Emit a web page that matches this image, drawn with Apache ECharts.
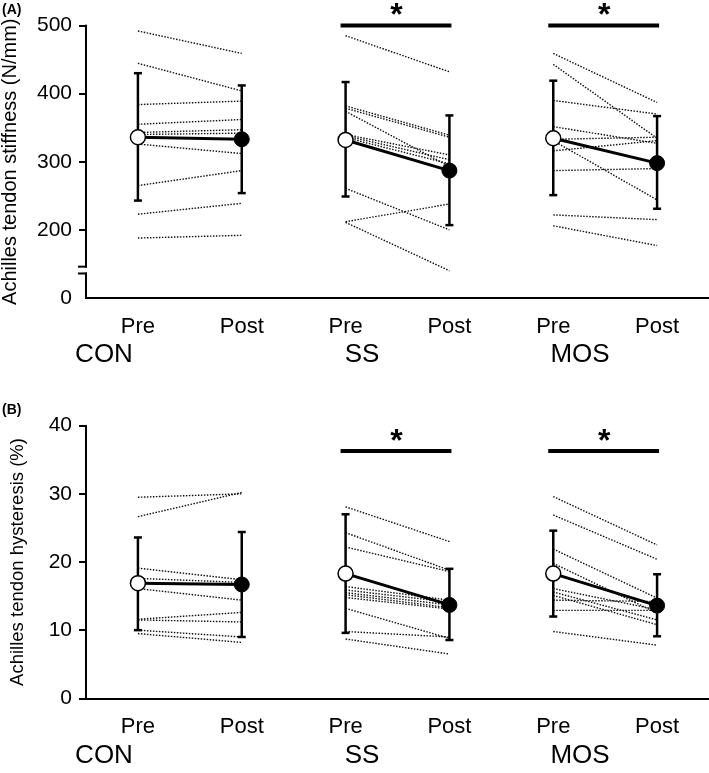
<!DOCTYPE html>
<html><head><meta charset="utf-8">
<script src="https://cdn.jsdelivr.net/npm/echarts@6/dist/echarts.min.js"></script>
<style>html,body{margin:0;padding:0;background:#fff}#c{width:709px;height:773px}</style>
</head><body><div id="c"></div>
<script>
// ---------- data ----------
const xLabels = ['Pre','Post','Pre','Post','Pre','Post'];
const groups = ['CON','SS','MOS'];
const yTicksA = [100,200,300,400,500]; // 100 is shown as "0" (broken axis)
// Panel A: stiffness (N/mm)
const conPreA  = [492, 444.5, 384, 355, 343, 340, 326, 265, 223, 188];
const conPostA = [459, 404, 389, 362, 347, 342, 312, 287, 239, 192];
const ssPreA   = [485, 382, 378.5, 374, 340, 338, 335.5, 261, 212, 211];
const ssPostA  = [432, 339, 336, 293, 310, 303, 297, 200, 238, 140];
const mosPreA  = [459, 443, 390, 351.5, 333, 331, 316, 287, 222, 206];
const mosPostA = [387, 334.5, 370, 327, 336, 244, 331, 290, 215, 177];
const meanPreA  = [336, 332, 334.5];
const meanPostA = [333, 287, 298];
const errPreA  = [[243, 430],[249, 417],[251, 419]];
const errPostA = [[254, 412],[207, 368],[231, 367]];
const sigA = 500;
// Panel B: hysteresis (%)
const conPreB  = [29.5, 26.65, 19.1, 17.6, 16.1, 11.6, 11.5, 10.0, 9.5];
const conPostB = [30.0, 30.2, 17.4, 17.0, 14.4, 12.6, 11.2, 9.0, 8.2];
const ssPreB   = [28.1, 24.3, 22.2, 16.4, 15.9, 15.5, 15.2, 14.8, 13.2, 9.8, 8.7];
const ssPostB  = [23.0, 18.8, 18.6, 14.4, 14.1, 13.7, 13.3, 13.1, 8.8, 9.0, 6.5];
const mosPreB  = [29.6, 26.9, 21.9, 19.8, 16.1, 15.6, 15.1, 14.4, 12.9, 9.8];
const mosPostB = [22.5, 20.4, 14.7, 12.5, 13.0, 11.5, 10.8, 14.2, 12.9, 7.8];
const meanPreB  = [16.9, 18.3, 18.3];
const meanPostB = [16.7, 13.7, 13.6];
const errPreB  = [[10.0, 23.6],[9.6, 27.0],[12.0, 24.6]];
const errPostB = [[9.0, 24.4],[8.55, 19.0],[9.1, 18.2]];
const sigB = 36.3;
const sigGroups = [1, 2]; // SS, MOS

// ---------- build ----------
const FONT = '"Liberation Sans", Arial, sans-serif';
function panel(gi, subj, meanPre, meanPost, errPre, errPost, sigY) {
  const s = [];
  subj.forEach((pair, g) => {
    pair[0].forEach((v, i) => {
      s.push({type:'line', xAxisIndex:gi, yAxisIndex:gi, silent:true, symbol:'none', z:1,
        data:[[2*g, v],[2*g+1, pair[1][i]]],
        lineStyle:{color:'#111', width:1.4, type:[1.5,1.5]}});
    });
    s.push({type:'line', xAxisIndex:gi, yAxisIndex:gi, silent:true, symbol:'none', z:3,
      data:[[2*g, meanPre[g]],[2*g+1, meanPost[g]]],
      lineStyle:{color:'#000', width:3}});
  });
  const errData = [];
  for (let g=0; g<3; g++) {
    errData.push([2*g, errPre[g][0], errPre[g][1]]);
    errData.push([2*g+1, errPost[g][0], errPost[g][1]]);
  }
  s.push({type:'custom', xAxisIndex:gi, yAxisIndex:gi, silent:true, z:4, data:errData,
    renderItem:(p, api) => {
      const x = api.value(0);
      const lo = api.coord([x, api.value(1)]), hi = api.coord([x, api.value(2)]);
      const st = {stroke:'#000', lineWidth:2.5};
      return {type:'group', children:[
        {type:'line', shape:{x1:lo[0],y1:lo[1],x2:hi[0],y2:hi[1]}, style:st},
        {type:'line', shape:{x1:lo[0]-4,y1:lo[1],x2:lo[0]+4,y2:lo[1]}, style:st},
        {type:'line', shape:{x1:hi[0]-4,y1:hi[1],x2:hi[0]+4,y2:hi[1]}, style:st}
      ]};
    }});
  s.push({type:'scatter', xAxisIndex:gi, yAxisIndex:gi, silent:true, z:6, symbolSize:15,
    data: meanPre.map((v,g)=>[2*g, v]),
    itemStyle:{color:'#fff', borderColor:'#000', borderWidth:1.5, opacity:1}});
  s.push({type:'scatter', xAxisIndex:gi, yAxisIndex:gi, silent:true, z:6, symbolSize:15,
    data: meanPost.map((v,g)=>[2*g+1, v]),
    itemStyle:{color:'#000', borderColor:'#000', borderWidth:1, opacity:1}});
  s.push({type:'custom', xAxisIndex:gi, yAxisIndex:gi, silent:true, z:6, clip:false,
    data: sigGroups.map(g => [2*g, 2*g+1, sigY]),
    renderItem:(p, api) => {
      const a = api.coord([api.value(0), api.value(2)]);
      const b = api.coord([api.value(1), api.value(2)]);
      return {type:'group', children:[
        {type:'line', shape:{x1:a[0]-5,y1:a[1],x2:b[0]+2,y2:b[1]}, style:{stroke:'#000', lineWidth:4}},
        {type:'text', x:(a[0]+b[0])/2 - 1, y:a[1]+7,
          style:{text:'*', fill:'#000', font:'bold 32px '+FONT, align:'center', verticalAlign:'bottom'}}
      ]};
    }});
  return s;
}

const series = [].concat(
  panel(0, [[conPreA,conPostA],[ssPreA,ssPostA],[mosPreA,mosPostA]], meanPreA, meanPostA, errPreA, errPostA, sigA),
  panel(1, [[conPreB,conPostB],[ssPreB,ssPostB],[mosPreB,mosPostB]], meanPreB, meanPostB, errPreB, errPostB, sigB)
);

function xAxis(gi) {
  return {type:'category', gridIndex:gi, data:xLabels, boundaryGap:true,
    axisLine:{lineStyle:{color:'#000', width:2}}, axisTick:{show:false},
    axisLabel:{color:'#000', fontSize:22, fontFamily:FONT, margin:18, interval:0}};
}
const yAxisName = {color:'#000', fontFamily:FONT};
const option = {
  animation:false,
  grid:[
    {left:86, right:0, top:25.5, height:272.5, containLabel:false, outerBoundsMode:'none'},
    {left:86, right:0, top:425.7, height:272.6, containLabel:false, outerBoundsMode:'none'}
  ],
  xAxis:[xAxis(0), xAxis(1)],
  yAxis:[
    {type:'value', gridIndex:0, min:100, max:500, interval:100,
      name:'Achilles tendon stiffness (N/mm)', nameLocation:'middle', nameGap:66,
      nameTextStyle:Object.assign({}, yAxisName, {fontSize:20}),
      axisLine:{show:true, lineStyle:{color:'#000', width:2}},
      axisTick:{show:true, inside:false, length:7, lineStyle:{color:'#000', width:2}, customValues:yTicksA.slice(1)},
      axisLabel:{color:'#000', fontSize:21, fontFamily:FONT, margin:14, customValues:yTicksA,
        formatter:v => v === 100 ? '0' : String(v)},
      splitLine:{show:false}},
    {type:'value', gridIndex:1, min:0, max:40, interval:10,
      name:'Achilles tendon hysteresis (%)', nameLocation:'middle', nameGap:59,
      nameTextStyle:Object.assign({}, yAxisName, {fontSize:18.5}),
      axisLine:{show:true, lineStyle:{color:'#000', width:2}},
      axisTick:{show:true, inside:false, length:7, lineStyle:{color:'#000', width:2}},
      axisLabel:{color:'#000', fontSize:21, fontFamily:FONT, margin:14},
      splitLine:{show:false}}
  ],
  series: series
};
const chart = echarts.init(document.getElementById('c'), null, {renderer:'canvas'});
chart.setOption(option);

// axis break decoration, panel titles and group labels
const yb1 = chart.convertToPixel({yAxisIndex:0}, 146);
const yb2 = chart.convertToPixel({yAxisIndex:0}, 136);
const ax = chart.convertToPixel({xAxisIndex:0}, 0) - (chart.convertToPixel({xAxisIndex:0}, 1) - chart.convertToPixel({xAxisIndex:0}, 0)) / 2;
const groupX = [104, 362, 580];
const gText = [];
[0,1].forEach(gi => {
  const yy = gi === 0 ? 355 : 756;
  groups.forEach((t, g) => {
    gText.push({type:'text', x:groupX[g], y:yy,
      style:{text:t, fill:'#000', font:'26px '+FONT, align:'center', verticalAlign:'middle'}});
  });
});
chart.setOption({graphic:[
  {type:'rect', shape:{x:ax-3, y:yb1+1, width:6, height:yb2-yb1-2}, style:{fill:'#fff'}, z:100},
  {type:'line', shape:{x1:ax-8, y1:yb1, x2:ax+1, y2:yb1}, style:{stroke:'#000', lineWidth:2}, z:101},
  {type:'line', shape:{x1:ax-8, y1:yb2, x2:ax+1, y2:yb2}, style:{stroke:'#000', lineWidth:2}, z:101},
  {type:'text', left:2, top:3, style:{text:'(A)', fill:'#000', font:'bold 14px '+FONT}},
  {type:'text', left:2, top:403, style:{text:'(B)', fill:'#000', font:'bold 14px '+FONT}}
].concat(gText)});
</script></body></html>
